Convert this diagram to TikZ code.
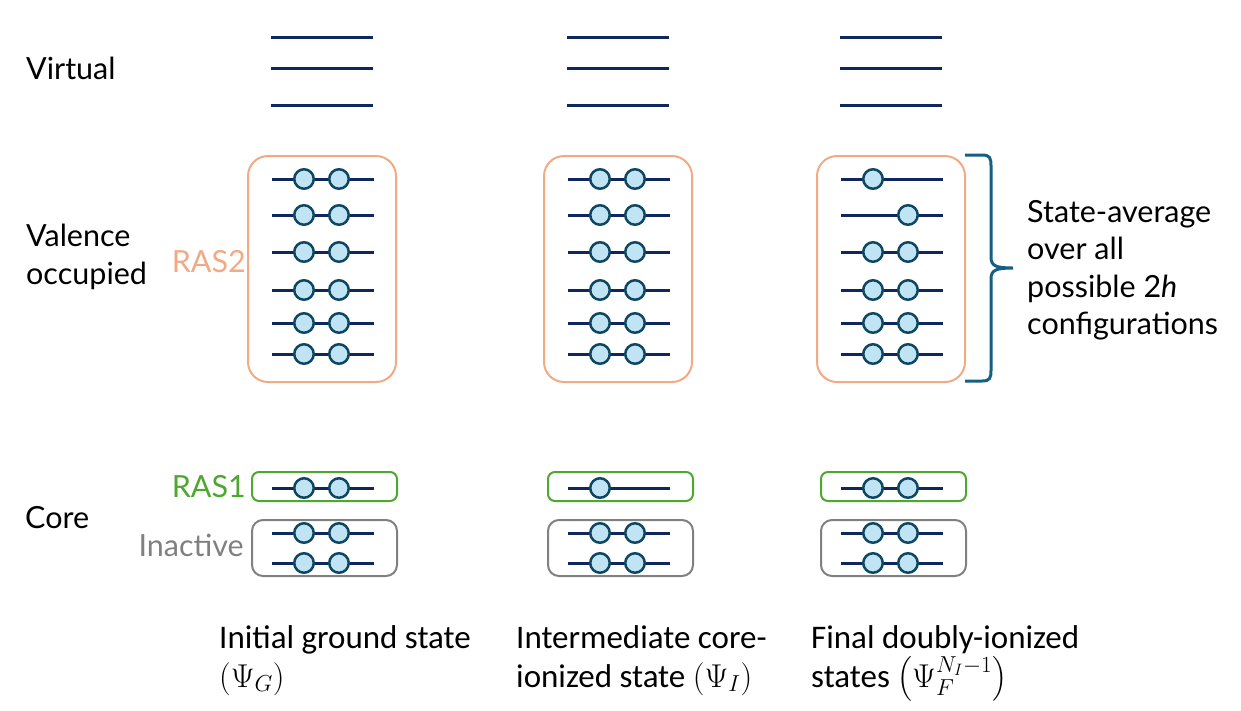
\documentclass[tikz,border=0pt]{standalone}
\usepackage{fix-cm}
\usepackage{amsmath}
\usepackage{fontspec}
\setmainfont{Lato}
\newfontfamily\narrowfont{Carlito}
\usetikzlibrary{calc, positioning}
\definecolor{levelblue}{RGB}{14,40,95}
\definecolor{elecedge}{RGB}{15,71,97}
\definecolor{elecfill}{RGB}{193,228,245}
\definecolor{rasorange}{RGB}{242,170,132}
\definecolor{rasgreen}{RGB}{78,167,46}
\definecolor{inactgray}{RGB}{128,128,128}
\definecolor{braceblue}{RGB}{21,96,130}
\tikzset{
  font=\fontsize{30.5}{37.5}\selectfont,
  % Orbital level
  level/.style={draw=levelblue, line width=3pt},
  % Electron on a level
  elec/.style={draw=elecedge, fill=elecfill, shape=circle, line width=2.5pt,
    minimum size=19.5pt, inner sep=0pt},
  % Active space boxes
  ras2box/.style={draw=rasorange, line width=2pt, rounded corners=20pt},
  ras1box/.style={draw=rasgreen, line width=2pt, rounded corners=7pt},
  inactbox/.style={draw=inactgray, line width=2pt, rounded corners=11pt},
  % Labels
  lbl/.style={inner sep=0pt, align=left},
  caption/.style={lbl, font=\narrowfont\fontsize{33}{39}\selectfont},
  % Brace
  brace/.style={draw=braceblue, line width=3pt},
}
% level: name, left x, y, electron offsets
\newcommand{\orbital}[4]{%
  \coordinate (#1a) at (#2,#3);
  \coordinate (#1b) at ($(#1a)+(102,0)$);
  \draw[level] (#1a) -- (#1b);
  \foreach \e in {#4} {\node[elec] (#1e\e) at ($(#1a)+(\e,0)$) {};}
}

\begin{document}
\begin{tikzpicture}[x=1pt, y=-1pt]
  \useasboundingbox (0,0) rectangle (1241,710);

  % virtual levels
  \foreach \c/\x in {1/271, 2/567, 3/840} {
    \foreach \l/\y in {1/37, 2/68, 3/105} {
      \coordinate (v\c\l a) at (\x,\y);
      \coordinate (v\c\l b) at (\x+102,\y);
      \draw[level] (v\c\l a) -- (v\c\l b);
    }
  }

  % boxes
  \foreach \x in {272, 568, 841} {
    \draw[ras2box] (\x-24,156) rectangle (\x+124,382);
    \draw[ras1box] (\x-20,472) rectangle (\x+125,501);
    \draw[inactbox] (\x-20,520) rectangle (\x+125,576);
  }

  % column 1: ground state
  \foreach \l/\y in {1/179, 2/215, 3/252, 4/290, 5/323, 6/354}
    {\orbital{a\l}{272}{\y}{32,67}}
  \orbital{a7}{272}{488}{32,67}
  \orbital{a8}{272}{533}{32,67}
  \orbital{a9}{272}{563}{32,67}

  % column 2: core-ionized state
  \foreach \l/\y in {1/179, 2/215, 3/252, 4/290, 5/323, 6/354}
    {\orbital{b\l}{568}{\y}{32,67}}
  \orbital{b7}{568}{488}{32}
  \orbital{b8}{568}{533}{32,67}
  \orbital{b9}{568}{563}{32,67}

  % column 3: doubly-ionized states
  \orbital{c1}{841}{179}{32}
  \orbital{c2}{841}{215}{67}
  \foreach \l/\y in {3/252, 4/290, 5/323, 6/354}
    {\orbital{c\l}{841}{\y}{32,67}}
  \orbital{c7}{841}{488}{32,67}
  \orbital{c8}{841}{533}{32,67}
  \orbital{c9}{841}{563}{32,67}

  % brace
  \coordinate (btop) at (965,155);
  \coordinate (btip) at (1013,268);
  \coordinate (bbot) at (965,381);
  \draw[brace] (btop) -- (982,155) .. controls (990,155) and (991,158) .. (991,166)
    -- (991,257) .. controls (991,266) and (996,268) .. (btip)
    .. controls (996,268) and (991,270) .. (991,279)
    -- (991,370) .. controls (991,378) and (990,381) .. (982,381) -- (bbot);

  % row labels
  \node[lbl, anchor=west] (virt) at (26,68) {Virtual};
  \node[lbl, anchor=west] (val) at (26,257) {Valence\\occupied};
  \node[lbl, anchor=west] (core) at (25,518) {Core};
  \node[lbl, anchor=east, text=rasorange] (ras2) at (246,262) {RAS2};
  \node[lbl, anchor=east, text=rasgreen] (ras1) at (246,487) {RAS1};
  \node[lbl, anchor=east, text=inactgray] (inact) at (244,545) {Inactive};

  % state average note
  \node[lbl, anchor=west] (avg) at (1027,270)
    {State-average\\over all\\possible 2\textit{h}\\configurations};

  % captions (base is the last line)
  \node[caption, anchor=base west] (capa) at (219,687)
    {Initial ground state\\$(\Psi_G)$};
  \node[caption, anchor=base west] (capb) at (516,687)
    {Intermediate core-\\ionized state $(\Psi_I)$};
  \node[caption, anchor=base west] (capc) at (811,687)
    {Final doubly-ionized\\states $\bigl(\Psi_F^{N_I-1}\bigr)$};
\end{tikzpicture}
\end{document}
